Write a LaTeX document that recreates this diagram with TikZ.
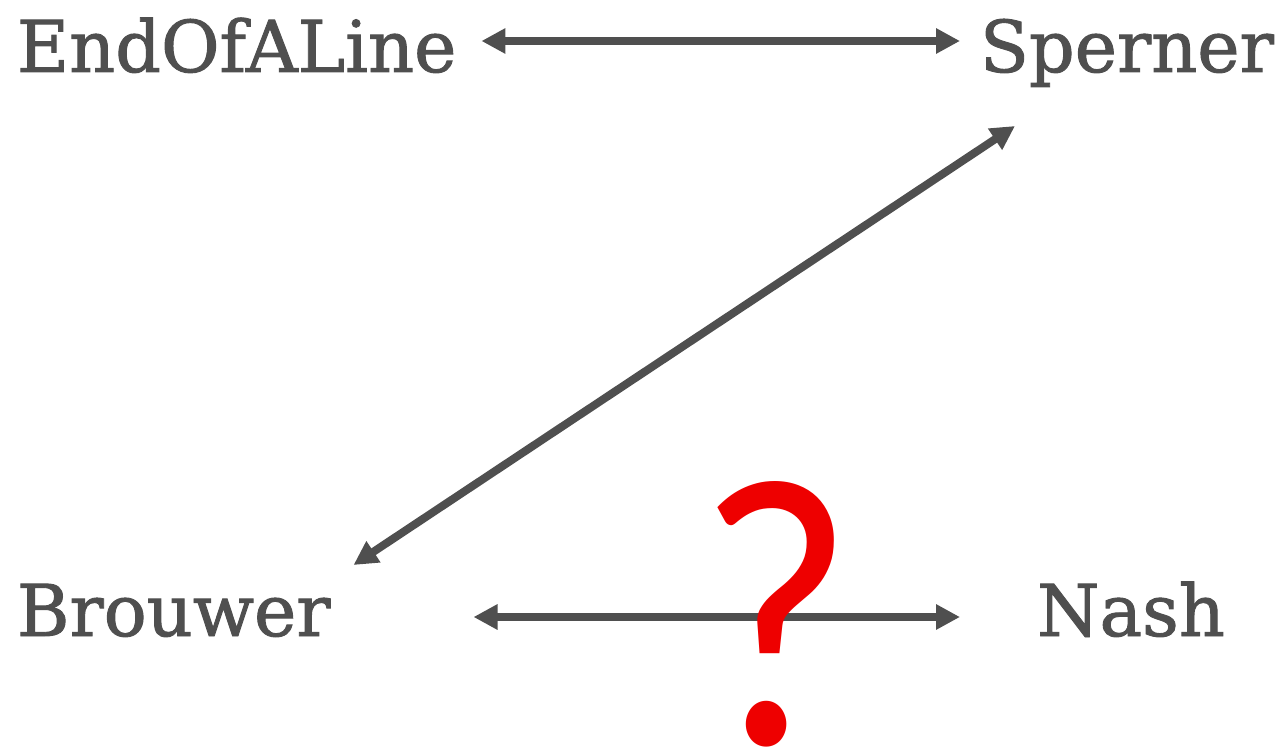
\documentclass[tikz,border=0pt]{standalone}
\usepackage{fontspec}
\setmainfont{DejaVu Serif}
\newfontfamily\labelfont[BoldFont=DejaVu Serif, BoldFeatures={FakeBold=1.3}]{DejaVu Serif}
\newfontfamily\qfont{Carlito}
\usetikzlibrary{arrows.meta,calc}
\definecolor{ink}{HTML}{4F4F4F}
\definecolor{qred}{HTML}{EE0000}
\tikzset{
  label/.style={inner sep=0pt, outer sep=0pt, text=ink, font=\labelfont\bfseries\fontsize{71.5}{72}\selectfont},
  biarrow/.style={draw=ink, line width=8pt,
    {Triangle[length=24pt,width=24pt]}-{Triangle[length=24pt,width=24pt]}},
  qmark/.style={inner sep=0pt, text=qred, font=\qfont\fontsize{385}{385}\selectfont}
}
\begin{document}
\begin{tikzpicture}[x=1pt,y=-1pt]
\useasboundingbox (0,0) rectangle (1278,754);
\node[label, anchor=base west] (eol) at (17,72) {EndOfALine};
\node[label, anchor=base west] (sp) at (980,72) {Sperner};
\node[label, anchor=base west] (br) at (17,636) {Brouwer};
\node[label, anchor=base west] (na) at (1037,636) {Nash};
\draw[biarrow] ($(eol.base east)+(25,-31)$) -- ($(sp.base west)+(-20,-31)$);
\draw[biarrow] ($(br.base east)+(143,-19)$) -- ($(na.base west)+(-77,-19)$);
\draw[biarrow] ($(br.base east)+(23,-71)$) -- ($(sp.base west)+(35,54)$);
\node[qmark, anchor=base] (q) at (776,744) {\scalebox{0.88}[1]{?}};
\end{tikzpicture}
\end{document}
